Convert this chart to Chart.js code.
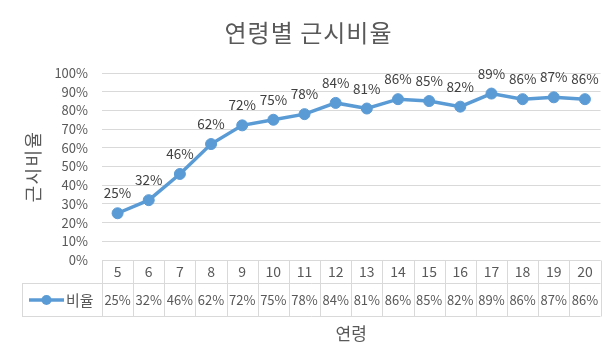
<!DOCTYPE html>
<html><head><meta charset="utf-8">
<script src="https://cdn.jsdelivr.net/npm/chart.js@4.4.0/dist/chart.umd.min.js"></script>
<style>html,body{margin:0;padding:0;background:#fff}#wrap{width:607px;height:358px}</style>
</head><body><div id="wrap"><canvas id="c" width="607" height="358"></canvas></div>
<script>
const chartTitle = '연령별 근시비율';
const yTitle = '근시비율';
const xTitle = '연령';
const seriesName = '비율';
const categories = ['5','6','7','8','9','10','11','12','13','14','15','16','17','18','19','20'];
const ratios = [25,32,46,62,72,75,78,84,81,86,85,82,89,86,87,86];
const yMin = 0, yMax = 100, yStep = 10;

const FONT = '"Noto Sans CJK KR", "Noto Sans", sans-serif';
const TXT = '#595959';
const GRID = '#d9d9d9';
const BLUE = '#5B9BD5';

const titlePlugin = {
  id: 'customTitle',
  afterDraw(chart) {
    const ctx = chart.ctx;
    const ca = chart.chartArea;
    ctx.save();
    ctx.font = '24px ' + FONT;
    ctx.fillStyle = TXT;
    ctx.textAlign = 'center';
    ctx.textBaseline = 'middle';
    ctx.letterSpacing = '1px';
    ctx.fillText(chartTitle, chart.width / 2 + 5, 33);
    // y axis title
    ctx.font = '18px ' + FONT;
    ctx.letterSpacing = '1.5px';
    ctx.translate(chart.scales.y.left + 11, (ca.top + ca.bottom) / 2);
    ctx.rotate(-Math.PI / 2);
    ctx.fillText(yTitle, 0, 0);
    ctx.restore();
  }
};

const labelPlugin = {
  id: 'pointLabels',
  afterDatasetsDraw(chart) {
    const ctx = chart.ctx;
    const meta = chart.getDatasetMeta(0);
    ctx.save();
    ctx.font = '13.5px ' + FONT;
    ctx.fillStyle = '#404040';
    ctx.textAlign = 'center';
    ctx.textBaseline = 'middle';
    meta.data.forEach((pt, i) => {
      ctx.fillText(ratios[i] + '%', pt.x, pt.y - 20);
    });
    ctx.restore();
  }
};

const tablePlugin = {
  id: 'dataTable',
  afterDraw(chart) {
    const ctx = chart.ctx;
    const xs = chart.scales.x;
    const ca = chart.chartArea;
    const n = categories.length;
    const colW = xs.getPixelForValue(1) - xs.getPixelForValue(0);
    const gLeft = xs.getPixelForValue(0) - colW / 2;
    const gRight = xs.getPixelForValue(n - 1) + colW / 2;
    const tLeft = chart.scales.y.left;
    const r0 = Math.round(ca.bottom) + 0.5;
    const r1 = r0 + 23;
    const r2 = r0 + 56;
    ctx.save();
    ctx.strokeStyle = GRID;
    ctx.lineWidth = 1;
    ctx.beginPath();
    ctx.moveTo(gLeft, r0); ctx.lineTo(gRight, r0);
    ctx.moveTo(tLeft, r1); ctx.lineTo(gRight, r1);
    ctx.moveTo(tLeft, r2); ctx.lineTo(gRight, r2);
    ctx.moveTo(tLeft + 0.5, r1); ctx.lineTo(tLeft + 0.5, r2);
    for (let i = 0; i <= n; i++) {
      const x = Math.round(gLeft + i * colW) + 0.5;
      ctx.moveTo(x, r0); ctx.lineTo(x, r2);
    }
    ctx.stroke();

    ctx.fillStyle = TXT;
    ctx.textAlign = 'center';
    ctx.textBaseline = 'middle';
    ctx.font = '14px ' + FONT;
    categories.forEach((c, i) => ctx.fillText(c, xs.getPixelForValue(i), (r0 + r1) / 2));
    ctx.font = '13px ' + FONT;
    ratios.forEach((v, i) => ctx.fillText(v + '%', xs.getPixelForValue(i), (r1 + r2) / 2));

    // legend key
    const ly = (r1 + r2) / 2;
    ctx.strokeStyle = BLUE;
    ctx.lineWidth = 3.5;
    ctx.beginPath();
    ctx.moveTo(tLeft + 7, ly); ctx.lineTo(tLeft + 42, ly);
    ctx.stroke();
    ctx.fillStyle = BLUE;
    ctx.beginPath();
    ctx.arc(tLeft + 24.5, ly, 5, 0, Math.PI * 2);
    ctx.fill();
    ctx.fillStyle = TXT;
    ctx.textAlign = 'left';
    ctx.font = '15px ' + FONT;
    ctx.fillText(seriesName, tLeft + 44, ly);

    // x axis title
    ctx.textAlign = 'center';
    ctx.font = '17px ' + FONT;
    ctx.fillText(xTitle, (ca.left + ca.right) / 2, r2 + 17);
    ctx.restore();
  }
};

new Chart(document.getElementById('c'), {
  type: 'line',
  data: {
    labels: categories,
    datasets: [{
      label: seriesName,
      data: ratios,
      borderColor: BLUE,
      backgroundColor: BLUE,
      borderWidth: 3.5,
      pointRadius: 5.5,
      pointHoverRadius: 5.5,
      pointBackgroundColor: BLUE,
      pointBorderColor: BLUE,
      pointBorderWidth: 1,
      tension: 0,
      fill: false
    }]
  },
  options: {
    responsive: false,
    devicePixelRatio: 1,
    animation: false,
    layout: { padding: { top: 73, right: 6, bottom: 98, left: 22 } },
    plugins: {
      legend: { display: false },
      title: { display: false },
      tooltip: { enabled: false }
    },
    scales: {
      x: { type: 'category', display: false, offset: true },
      y: {
        min: yMin, max: yMax,
        afterFit(s) { s.width = 80; },
        ticks: {
          stepSize: yStep,
          padding: 14,
          color: TXT,
          font: { size: 13, family: FONT },
          callback: v => v + '%'
        },
        grid: { color: GRID, lineWidth: 1, drawTicks: false },
        border: { display: false }
      }
    }
  },
  plugins: [titlePlugin, labelPlugin, tablePlugin]
});
</script>
</body></html>
